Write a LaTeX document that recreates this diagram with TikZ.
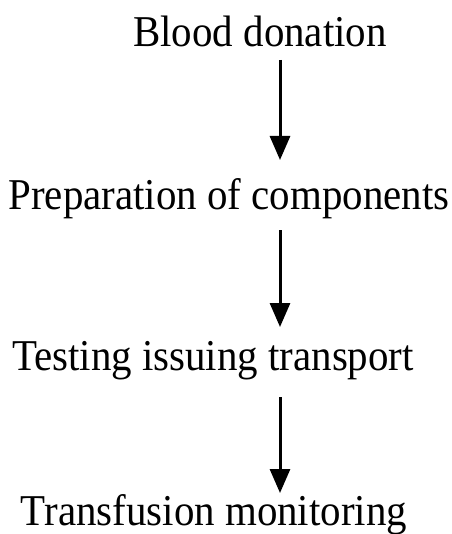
\documentclass[tikz,border=0pt]{standalone}
\usepackage{fontspec}
\setmainfont[FakeStretch = 0.93]{Liberation Serif}
\usetikzlibrary{arrows.meta}

\begin{document}
\begin{tikzpicture}[x = 1pt, y = -1pt, > = {Triangle[width = 20pt, length = 24pt]},
	stage/.style = {anchor = base, inner sep = 0pt, font = \fontsize{44}{52}\selectfont},
	flow/.style = {->, line width = 3pt}]

	% Page frame

	\useasboundingbox (0, 0) rectangle (451, 534);

	% Steps

	\node [stage] (donation) at (260, 47) {Blood donation};
	\node [stage] (prep) at (229, 210) {Preparation of components};
	\node [stage] (testing) at (213, 370) {Testing issuing transport};
	\node [stage] (transfusion) at (214, 525) {Transfusion monitoring};

	% Arrows

	\coordinate (ax) at (280, 0);

	\draw [flow, shorten < = 13pt, shorten > = 50pt] (donation.base -| ax) -- (prep.base -| ax);
	\draw [flow, shorten < = 20pt, shorten > = 43pt] (prep.base -| ax) -- (testing.base -| ax);
	\draw [flow, shorten < = 27pt, shorten > = 32pt] (testing.base -| ax) -- (transfusion.base -| ax);

\end{tikzpicture}
\end{document}
